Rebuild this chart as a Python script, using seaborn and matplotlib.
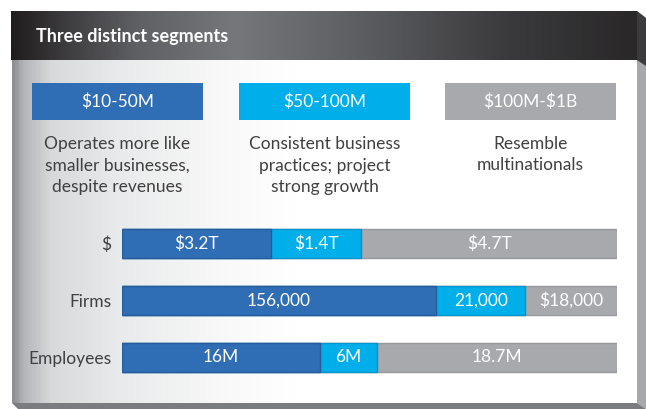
import numpy as np
import pandas as pd
import matplotlib
matplotlib.use("Agg")
import matplotlib.pyplot as plt
from matplotlib.colors import LinearSegmentedColormap
from matplotlib.patches import Rectangle, Polygon
import seaborn as sns

# ---------------- data ----------------
title = "Three distinct segments"
segments = ["$10-50M", "$50-100M", "$100M-$1B"]
descriptions = [
    ["Operates more like", "smaller businesses,", "despite revenues"],
    ["Consistent business", "practices; project", "strong growth"],
    ["Resemble", "multinationals"],
]
categories = ["$", "Firms", "Employees"]
# displayed share of each bar (percent of bar length)
share_small = [30.2, 63.5, 40.0]
share_mid = [18.2, 18.0, 11.5]
share_large = [51.6, 18.5, 48.5]
# value labels printed on the segments
labels_small = ["$3.2T", "156,000", "16M"]
labels_mid = ["$1.4T", "21,000", "6M"]
labels_large = ["$4.7T", "$18,000", "18.7M"]

seg_colors = ["#2f6db5", "#00aeea", "#a7a9ac"]
seg_edges = ["#275c9c", "#0096cc", "#96989b"]

sns.set_theme(style="white")
plt.rcParams["font.family"] = ["Lato", "DejaVu Sans"]
plt.rcParams["text.parse_math"] = False

W, H = 646, 409
fig = plt.figure(figsize=(W / 100, H / 100), dpi=100)
fig.patch.set_facecolor("white")

bg = fig.add_axes([0, 0, 1, 1])
bg.set_xlim(0, W)
bg.set_ylim(H, 0)
bg.axis("off")

# card shadow / bevel
bg.add_patch(Polygon([(637, 11), (646, 18), (646, 409), (637, 403)], closed=True,
                     facecolor="#a6a8ab", edgecolor="none", zorder=1))
bg.add_patch(Polygon([(12, 403), (637, 403), (646, 409), (18, 409)], closed=True,
                     facecolor="#7b7c7f", edgecolor="none", zorder=1))
bg.add_patch(Polygon([(637, 11), (646, 18), (646, 66), (637, 60)], closed=True,
                     facecolor="#3b3b3d", edgecolor="none", zorder=2))

# body gradient (grey at left fading to white)
body_cmap = LinearSegmentedColormap.from_list(
    "body", [(0.0, "#8f9093"), (0.015, "#b3b4b7"), (0.06, "#d8d9db"),
             (0.17, "#e9eaeb"), (0.33, "#f8f8f8"), (0.45, "#ffffff"), (1.0, "#ffffff")])
grad = np.linspace(0, 1, 400).reshape(1, -1)
bg.imshow(grad, cmap=body_cmap, aspect="auto", extent=[12, 637, 403, 60], zorder=1.5)

# header gradient
head_cmap = LinearSegmentedColormap.from_list(
    "head", [(0.0, "#201d1e"), (0.08, "#3b3a3c"), (0.2, "#5f6064"), (0.36, "#76777b"),
             (0.55, "#5e5f62"), (0.8, "#3a3a3c"), (1.0, "#2a2829")])
bg.imshow(grad, cmap=head_cmap, aspect="auto", extent=[11, 637, 60, 11], zorder=2)
bg.text(36, 36.5, title, color="white", fontsize=13, fontweight="bold",
        ha="left", va="center", zorder=3)

# segment label boxes and descriptions
box_x = [(32, 203), (239, 410), (445, 616)]
for (x0, x1), seg, col, desc in zip(box_x, segments, seg_colors, descriptions):
    bg.add_patch(Rectangle((x0, 83), x1 - x0, 36.5, facecolor=col, edgecolor="none", zorder=3))
    cx = (x0 + x1) / 2
    bg.text(cx, 101.5, seg, color="white", fontsize=12.5, ha="center", va="center", zorder=4)
    for i, line in enumerate(desc):
        bg.text(cx, 144 + i * 21.5, line, color="#404041", fontsize=12.5,
                ha="center", va="center", zorder=4)

# ---------------- stacked bars ----------------
ax = fig.add_axes([122 / W, 1 - 386 / H, (616.7 - 122) / W, 171 / H])
ax.set_facecolor("none")

shares = np.array([share_small, share_mid, share_large])
cum = np.cumsum(shares, axis=0)
df = pd.DataFrame({
    "category": categories * 3,
    "segment": np.repeat(segments, len(categories)),
    "cum": cum.flatten(),
})
for seg, col, ec in reversed(list(zip(segments, seg_colors, seg_edges))):
    sub = df[df["segment"] == seg]
    sns.barplot(data=sub, x="cum", y="category", orient="h", color=col,
                saturation=1, width=0.51, errorbar=None, ax=ax,
                edgecolor=ec, linewidth=1.0, order=categories)

all_labels = [labels_small, labels_mid, labels_large]
for s in range(3):
    for c in range(len(categories)):
        center = cum[s, c] - shares[s, c] / 2
        ax.text(center, c, all_labels[s][c], color="white", fontsize=12.5,
                ha="center", va="center")

ax.set_xlim(0, 100)
ax.set_ylim(2.5, -0.5)
ax.set_xlabel("")
ax.set_ylabel("")
ax.set_xticks([])
for sp in ax.spines.values():
    sp.set_visible(False)
ax.tick_params(axis="y", length=0, pad=7.5, labelsize=12.5, labelcolor="#404041")

fig.savefig("out.png", dpi=100)
